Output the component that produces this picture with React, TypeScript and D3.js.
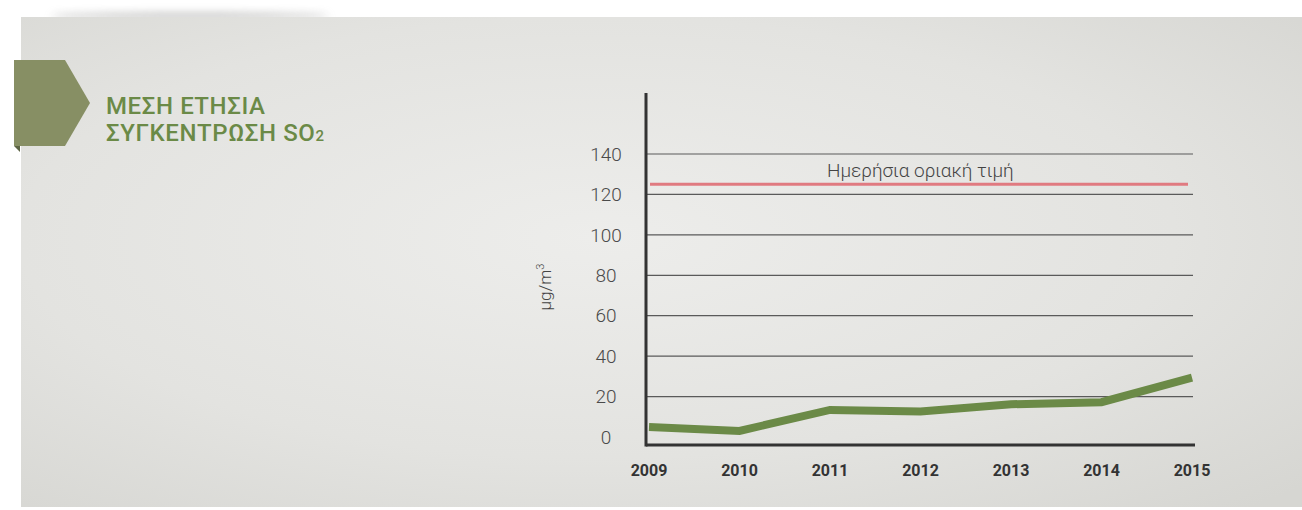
import { useEffect, useRef } from 'react';
import * as d3 from 'd3';

const years = ['2009', '2010', '2011', '2012', '2013', '2014', '2015'];
const so2Values = [5, 3, 13.4, 12.6, 16.2, 17.2, 29.4];
const yTicks = [0, 20, 40, 60, 80, 100, 120, 140];
const dailyLimit = 125;
const limitLabel = 'Ημερήσια οριακή τιμή';
const titleLines = ['ΜΕΣΗ ΕΤΗΣΙΑ', 'ΣΥΓΚΕΝΤΡΩΣΗ SO'];

const W = 1302;
const H = 510;

function drawChart(el: SVGSVGElement) {
    const svg = d3.select(el);
    svg.selectAll('*').remove();

    const defs = svg.append('defs');
    const grad = defs.append('radialGradient')
      .attr('id', 'cardGrad')
      .attr('cx', '45%').attr('cy', '45%').attr('r', '75%');
    grad.append('stop').attr('offset', '0%').attr('stop-color', '#ededeb');
    grad.append('stop').attr('offset', '60%').attr('stop-color', '#e3e3e0');
    grad.append('stop').attr('offset', '100%').attr('stop-color', '#d6d6d2');

    defs.append('filter').attr('id', 'blur')
      .attr('x', '-20%').attr('y', '-200%').attr('width', '140%').attr('height', '500%')
      .append('feGaussianBlur').attr('stdDeviation', 4);

    // page + card
    svg.append('rect').attr('width', W).attr('height', H).attr('fill', '#ffffff');
    svg.append('ellipse')
      .attr('cx', 190).attr('cy', 16).attr('rx', 140).attr('ry', 3)
      .attr('fill', '#8a8a88').attr('opacity', 0.55).attr('filter', 'url(#blur)');
    svg.append('rect')
      .attr('x', 21).attr('y', 17).attr('width', W - 21).attr('height', 490)
      .attr('fill', 'url(#cardGrad)');

    // title ribbon
    svg.append('path')
      .attr('d', 'M14,60 L65,60 L90,103 L65,146 L14,146 Z')
      .attr('fill', '#878f64');
    svg.append('path')
      .attr('d', 'M14,146 L20,146 L20,152 Z')
      .attr('fill', '#5c6444');

    const titleStyle = (t: d3.Selection<SVGTextElement, unknown, null, undefined>) => t
      .attr('font-family', 'Roboto, sans-serif')
      .attr('font-weight', 500)
      .attr('font-size', 24)
      .attr('letter-spacing', 0.6)
      .attr('fill', '#6b8a47');
    svg.append('text').call(titleStyle)
      .attr('x', 106).attr('y', 114).text(titleLines[0]);
    const l2 = svg.append('text').call(titleStyle)
      .attr('x', 106).attr('y', 141).text(titleLines[1]);
    l2.append('tspan').attr('font-size', 15).text('2');

    // scales
    const x = d3.scalePoint<string>().domain(years).range([649, 1192]);
    const y = d3.scaleLinear().domain([0, 140]).range([437, 154]);

    const left = 646;
    const right = 1193;
    const axisY = y(0) + 8;

    // gridlines
    svg.append('g')
      .selectAll('line')
      .data(yTicks.filter(d => d > 0))
      .join('line')
      .attr('x1', left).attr('x2', right)
      .attr('y1', d => y(d)).attr('y2', d => y(d))
      .attr('stroke', '#5a5a5a').attr('stroke-width', 1.2);

    // y tick labels
    svg.append('g')
      .selectAll('text')
      .data(yTicks)
      .join('text')
      .attr('x', 606)
      .attr('y', d => y(d))
      .attr('dy', '0.35em')
      .attr('text-anchor', 'middle')
      .attr('font-family', 'Roboto, sans-serif')
      .attr('font-weight', 300)
      .attr('font-size', 19)
      .attr('fill', '#4a4a4a')
      .text(d => d);

    // y axis title
    const yTitle = svg.append('text')
      .attr('transform', 'translate(551,287) rotate(-90)')
      .attr('text-anchor', 'middle')
      .attr('font-family', 'Roboto, sans-serif')
      .attr('font-weight', 300)
      .attr('font-size', 17)
      .attr('fill', '#444');
    yTitle.append('tspan').text('μg/m');
    yTitle.append('tspan').attr('font-size', 11).attr('dy', -7).text('3');

    // limit line
    svg.append('line')
      .attr('x1', 650).attr('x2', 1188)
      .attr('y1', y(dailyLimit)).attr('y2', y(dailyLimit))
      .attr('stroke', '#e07a80').attr('stroke-width', 3);
    svg.append('text')
      .attr('x', 827).attr('y', y(dailyLimit) - 7)
      .attr('font-family', 'Roboto, sans-serif')
      .attr('font-weight', 300)
      .attr('font-size', 19)
      .attr('fill', '#444')
      .text(limitLabel);

    // axes
    svg.append('line')
      .attr('x1', left).attr('x2', left)
      .attr('y1', 93).attr('y2', axisY + 1.5)
      .attr('stroke', '#333').attr('stroke-width', 3);
    svg.append('line')
      .attr('x1', left).attr('x2', 1195)
      .attr('y1', axisY).attr('y2', axisY)
      .attr('stroke', '#333').attr('stroke-width', 3);

    // x tick labels
    svg.append('g')
      .selectAll('text')
      .data(years)
      .join('text')
      .attr('x', d => x(d) as number)
      .attr('y', 476)
      .attr('text-anchor', 'middle')
      .attr('font-family', 'Roboto, sans-serif')
      .attr('font-weight', 700)
      .attr('font-size', 16)
      .attr('fill', '#333')
      .text(d => d);

    // data line
    const line = d3.line<number>()
      .x((d, i) => x(years[i]) as number)
      .y(d => y(d));
    svg.append('path')
      .datum(so2Values)
      .attr('d', line)
      .attr('fill', 'none')
      .attr('stroke', '#6b8a47')
      .attr('stroke-width', 8)
      .attr('stroke-linejoin', 'miter');
}

export default function App() {
    const ref = useRef<SVGSVGElement>(null);

    useEffect(() => {
        if (ref.current) drawChart(ref.current);
    }, []);

    return (
        <svg ref={ref} width={W} height={H}
             style={{ position: 'absolute', left: 0, top: 0, display: 'block' }} />
    );
}
